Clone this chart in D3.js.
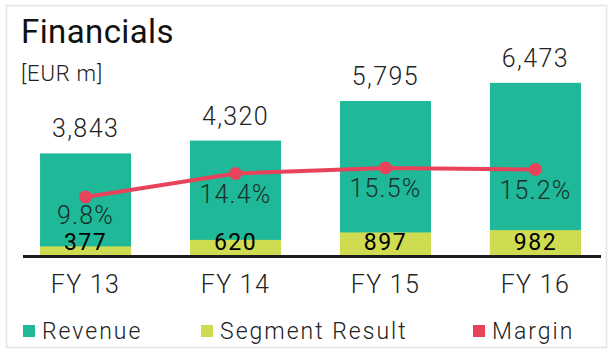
<!DOCTYPE html>
<html lang="en">
<head>
    <meta charset="UTF-8">
    <title>Financials</title>
    <script src="https://cdn.jsdelivr.net/npm/d3@7"></script>
    <style>
        body { margin: 0; background: #fff; }
        text { font-family: Roboto, "Liberation Sans", sans-serif; }
        .light { font-weight: 300; }
    </style>
</head>
<body>
    <div id="chart-space"></div>

    <script>
        // data
        var years = ["FY 13", "FY 14", "FY 15", "FY 16"];
        var revenue = [3843, 4320, 5795, 6473];
        var segmentResult = [377, 620, 897, 982];
        var margin = [9.8, 14.4, 15.5, 15.2];
        var legendNames = ["Revenue", "Segment Result", "Margin"];

        var width = 613;
        var height = 352;
        var baseY = 256.5;

        var colRevenue = "#1fb899";
        var colSegment = "#cfdc52";
        var colMargin = "#e8435a";

        var data = years.map(function(y, i) {
            return {year: y, revenue: revenue[i], segment: segmentResult[i], margin: margin[i]};
        });

        var svg = d3.select("#chart-space")
            .append("svg")
            .attr("width", width)
            .attr("height", height);

        // frame
        svg.append("rect")
            .attr("x", 6.5).attr("y", 5.5)
            .attr("width", 600).attr("height", 342)
            .attr("fill", "#fff")
            .attr("stroke", "#e4e4e4")
            .attr("stroke-width", 1.5);

        // scales
        var xScale = d3.scaleBand()
            .domain(years)
            .range([10.5, 610.5])
            .paddingInner(0.393)
            .paddingOuter(0.197);

        var yScale = d3.scaleLinear()
            .domain([0, 7000])
            .range([baseY, baseY - 187.8]);

        var mScale = d3.scaleLinear()
            .domain([0, 20])
            .range([246.8, 145]);

        // title
        svg.append("text")
            .attr("x", 21).attr("y", 43)
            .style("font-size", "33px")
            .style("letter-spacing", "0.4px")
            .style("fill", "#111")
            .text("Financials");

        svg.append("text")
            .attr("class", "light")
            .attr("x", 21).attr("y", 81)
            .style("font-size", "22px")
            .style("letter-spacing", "0.8px")
            .style("fill", "#222")
            .text("[EUR m]");

        // revenue bars
        svg.selectAll(".rev")
            .data(data)
            .join("rect")
            .attr("class", "rev")
            .attr("x", function(d) { return xScale(d.year); })
            .attr("y", function(d) { return yScale(d.revenue); })
            .attr("width", xScale.bandwidth())
            .attr("height", function(d) { return baseY - yScale(d.revenue); })
            .attr("fill", colRevenue);

        // segment result bars (overlaid from the baseline)
        svg.selectAll(".seg")
            .data(data)
            .join("rect")
            .attr("class", "seg")
            .attr("x", function(d) { return xScale(d.year); })
            .attr("y", function(d) { return yScale(d.segment); })
            .attr("width", xScale.bandwidth())
            .attr("height", function(d) { return baseY - yScale(d.segment); })
            .attr("fill", colSegment);

        var cx = function(d) { return xScale(d.year) + xScale.bandwidth() / 2; };

        // revenue labels
        svg.selectAll(".revLabel")
            .data(data)
            .join("text")
            .attr("class", "revLabel light")
            .attr("x", cx)
            .attr("y", function(d) { return yScale(d.revenue) - 16; })
            .attr("text-anchor", "middle")
            .style("font-size", "25px")
            .style("letter-spacing", "1.4px")
            .style("fill", "#222")
            .text(function(d) { return d3.format(",")(d.revenue); });

        // segment labels
        svg.selectAll(".segLabel")
            .data(data)
            .join("text")
            .attr("class", "segLabel")
            .attr("x", cx)
            .attr("y", baseY - 6.5)
            .attr("text-anchor", "middle")
            .style("font-size", "23px")
            .style("letter-spacing", "1.5px")
            .style("fill", "#000")
            .text(function(d) { return d.segment; });

        // margin line
        var line = d3.line()
            .x(cx)
            .y(function(d) { return mScale(d.margin); });

        svg.append("path")
            .datum(data)
            .attr("d", line)
            .attr("fill", "none")
            .attr("stroke", colMargin)
            .attr("stroke-width", 4);

        svg.selectAll(".dot")
            .data(data)
            .join("circle")
            .attr("class", "dot")
            .attr("cx", cx)
            .attr("cy", function(d) { return mScale(d.margin); })
            .attr("r", 6.5)
            .attr("fill", colMargin);

        // margin labels, kept clear of the segment labels
        svg.selectAll(".mLabel")
            .data(data)
            .join("text")
            .attr("class", "mLabel light")
            .attr("x", cx)
            .attr("y", function(d) {
                return Math.min(mScale(d.margin) + 29.5, yScale(d.segment) - 22);
            })
            .attr("text-anchor", "middle")
            .style("font-size", "25px")
            .style("letter-spacing", "1.2px")
            .style("fill", "#17302a")
            .text(function(d) { return d.margin.toFixed(1) + "%"; });

        // baseline
        svg.append("line")
            .attr("x1", 23).attr("x2", 601)
            .attr("y1", baseY).attr("y2", baseY)
            .attr("stroke", "#1c1c1c")
            .attr("stroke-width", 3);

        // x axis labels
        var xAxis = svg.append("g")
            .attr("transform", "translate(0," + baseY + ")")
            .call(d3.axisBottom(xScale).tickSize(0).tickPadding(19))
            .call(g => g.select(".domain").remove());

        xAxis.selectAll("text")
            .attr("class", "light")
            .style("font-family", "Roboto, sans-serif")
            .style("font-size", "25px")
            .style("letter-spacing", "1.3px")
            .style("fill", "#222");

        // legend
        var legendX = [23, 201, 473];
        var legendCol = [colRevenue, colSegment, colMargin];
        var legend = svg.selectAll(".legend")
            .data(legendNames)
            .join("g")
            .attr("class", "legend")
            .attr("transform", function(d, i) { return "translate(" + legendX[i] + ",325)"; });

        legend.append("rect")
            .attr("width", 12).attr("height", 12)
            .attr("fill", function(d, i) { return legendCol[i]; });

        legend.append("text")
            .attr("class", "light")
            .attr("x", 19).attr("y", 14)
            .style("font-size", "23px")
            .style("letter-spacing", "2px")
            .style("fill", "#222")
            .text(function(d) { return d; });
    </script>
</body>
</html>
